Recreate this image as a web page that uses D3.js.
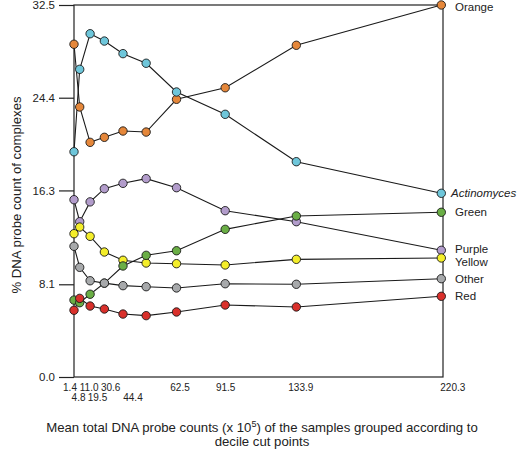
<!DOCTYPE html>
<html><head><meta charset="utf-8">
<script src="https://cdn.jsdelivr.net/npm/d3@7/dist/d3.min.js"></script>
<style>
html,body{margin:0;padding:0;background:#fff;}
svg{display:block;font-family:"Liberation Sans",Arial,Helvetica,sans-serif;}
</style></head>
<body>
<svg id="chart" width="518" height="451"></svg>
<script>
const xValues = [1.4, 4.8, 11.0, 19.5, 30.6, 44.4, 62.5, 91.5, 133.9, 220.3];
const xRow2 = [4.8, 19.5, 44.4];
const yTicks = [0.0, 8.1, 16.3, 24.4, 32.5];
const seriesNames = ["Orange", "Actinomyces", "Purple", "Yellow", "Green", "Other", "Red"];
const seriesColors = ["#e5873a", "#6ec6da", "#b29ccb", "#f4ee2a", "#6aae45", "#a7a9ab", "#d9302b"];
const orange      = [29.07, 23.59, 20.50, 20.94, 21.49, 21.40, 24.26, 25.27, 28.98, 32.50];
const actinomyces = [19.68, 26.88, 29.99, 29.35, 28.25, 27.41, 24.90, 22.95, 18.81, 16.05];
const purple      = [15.49, 13.57, 15.30, 16.45, 16.92, 17.33, 16.54, 14.53, 13.57, 11.07];
const yellow      = [12.52, 13.10, 12.29, 10.92, 10.20, 9.96, 9.90, 9.79, 10.28, 10.40];
const green       = [6.72, 6.49, 7.23, 8.20, 9.70, 10.63, 11.03, 12.90, 14.07, 14.39];
const other       = [11.42, 9.58, 8.41, 8.20, 7.98, 7.89, 7.78, 8.15, 8.10, 8.59];
const red         = [5.83, 6.87, 6.20, 5.94, 5.50, 5.36, 5.68, 6.29, 6.12, 7.05];
const seriesValues = [orange, actinomyces, purple, yellow, green, other, red];

(function () {
const svg = d3.select("#chart");
const mLeft = 74, mRight = 443, mTop = 5, mBottom = 377;
const x = d3.scaleLinear().domain([1.4, 220.3]).range([mLeft, 441.3]);
const y = d3.scaleLinear().domain([0, 32.5]).range([mBottom, mTop]);

// frame
svg.append("rect").attr("x", mLeft).attr("y", mTop).attr("width", mRight - mLeft).attr("height", mBottom - mTop)
  .attr("fill", "none").attr("stroke", "#222").attr("stroke-width", 1.2);

// y axis
const yAxis = d3.axisLeft(y).tickValues(yTicks).tickSize(15).tickPadding(4).tickFormat(d3.format(".1f"));
const gy = svg.append("g").attr("transform", `translate(${mLeft},0)`).call(yAxis);
gy.select(".domain").remove();
gy.selectAll("line").attr("stroke", "#222").attr("stroke-width", 1.2);
gy.selectAll("text").attr("font-size", "11.5px").attr("fill", "#222").attr("font-family", "Liberation Sans, Arial, sans-serif");

// x axis labels (two staggered rows, shifted apart to avoid collisions)
const nudge = {"1.4": -4.5, "4.8": -1.7, "11": -1.5, "19.5": -7.4, "30.6": -12.8, "44.4": -13.7, "62.5": 3, "91.5": 0, "133.9": 4, "220.3": 11};
const xAxis = d3.axisBottom(x).tickValues(xValues).tickSize(0).tickPadding(0).tickFormat(d3.format(".1f"));
const gx = svg.append("g").attr("transform", `translate(0,${mBottom})`).call(xAxis);
gx.select(".domain").remove();
gx.selectAll(".tick text")
  .attr("font-size", "10px").attr("fill", "#222").attr("font-family", "Liberation Sans, Arial, sans-serif")
  .attr("dx", d => nudge[String(d)] || 0)
  .attr("dy", 0)
  .attr("y", d => xRow2.includes(d) ? 24 : 14);

// lines
const line = d3.line().x((d, i) => x(xValues[i])).y(d => y(d));
seriesValues.forEach(vals => {
  svg.append("path").attr("d", line(vals)).attr("fill", "none").attr("stroke", "#1a1a1a").attr("stroke-width", 1.1);
});
// points
seriesValues.forEach((vals, si) => {
  svg.append("g").selectAll("circle").data(vals).join("circle")
    .attr("cx", (d, i) => x(xValues[i])).attr("cy", d => y(d)).attr("r", 4.2)
    .attr("fill", seriesColors[si]).attr("stroke", "#1a1a1a").attr("stroke-width", 0.9);
});

// series labels
const labelNudge = {"Orange": 1.5, "Yellow": 4.5, "Purple": -1.5};
seriesNames.forEach((name, si) => {
  const last = seriesValues[si][seriesValues[si].length - 1];
  svg.append("text")
    .attr("x", name === "Actinomyces" ? 451 : 455)
    .attr("y", y(last) + (labelNudge[name] || 0))
    .attr("dy", "0.35em")
    .attr("font-size", "11.5px").attr("fill", "#222")
    .attr("font-style", name === "Actinomyces" ? "italic" : "normal")
    .text(name);
});

// axis titles
const xt = svg.append("text").attr("x", 262).attr("y", 432).attr("text-anchor", "middle")
  .attr("font-size", "13.2px").attr("fill", "#222");
xt.append("tspan").text("Mean total DNA probe counts (x 10");
xt.append("tspan").attr("dy", -5).attr("font-size", "9px").text("5");
xt.append("tspan").attr("dy", 5).text(") of the samples grouped according to");
svg.append("text").attr("x", 262).attr("y", 446).attr("text-anchor", "middle")
  .attr("font-size", "13.2px").attr("fill", "#222").text("decile cut points");

svg.append("text").attr("transform", `translate(21,${(mTop + mBottom) / 2 + 4}) rotate(-90)`)
  .attr("text-anchor", "middle").attr("font-size", "13.2px").attr("fill", "#222")
  .text("% DNA probe count of complexes");
})();
</script>
</body></html>
